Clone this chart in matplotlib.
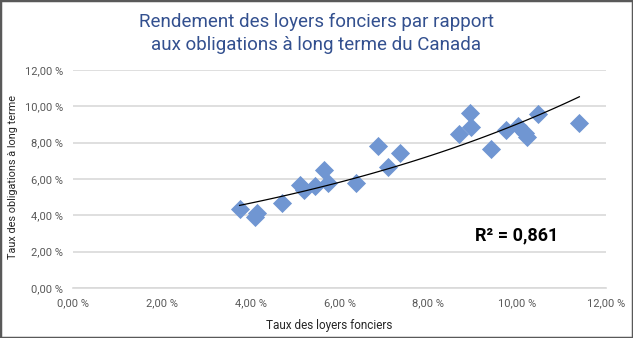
import numpy as np
import matplotlib
matplotlib.use("Agg")
import matplotlib.pyplot as plt
from matplotlib.patches import Rectangle
from matplotlib.ticker import FuncFormatter

plt.rcParams['font.family'] = ['Roboto', 'DejaVu Sans']

# rendement des loyers fonciers (x) vs obligations long terme (y), en %
loyers = [3.75, 4.10, 4.15, 4.70, 5.11, 5.19, 5.45, 5.65, 5.73, 6.37, 6.86,
          7.09, 7.36, 8.68, 8.94, 8.96, 9.41, 9.75, 10.03, 10.18, 10.22,
          10.48, 11.40]
obligations = [4.33, 3.90, 4.15, 4.70, 5.67, 5.39, 5.61, 6.49, 5.80, 5.80,
               7.81, 6.64, 7.45, 8.46, 9.65, 8.84, 7.63, 8.70, 8.92, 8.51,
               8.33, 9.58, 9.06]
ticks = [0, 2, 4, 6, 8, 10, 12]
r2_label = "R² = 0,861"

x = np.array(loyers)
y = np.array(obligations)

# tendance exponentielle y = a*exp(b*x)
b, ln_a = np.polyfit(x, np.log(y), 1)
xt = np.linspace(x.min(), x.max(), 100)
yt = np.exp(ln_a) * np.exp(b * xt)

fig = plt.figure(figsize=(6.33, 3.38), dpi=100)
ax = fig.add_axes([73/633, 50/338, 533/633, 218/338])

ax.scatter(x, y, marker='D', s=95, color='#7096d2', linewidths=0, zorder=3)
ax.plot(xt, yt, color='black', lw=0.9, zorder=4)

ax.set_xlim(0, 12)
ax.set_ylim(0, 12)
ax.set_xticks(ticks)
ax.set_yticks(ticks)
fmt = FuncFormatter(lambda v, p: ('%.2f' % v).replace('.', ',') + ' %')
ax.xaxis.set_major_formatter(fmt)
ax.yaxis.set_major_formatter(fmt)
ax.tick_params(length=0, labelsize=8, colors='#595959', pad=7)
ax.grid(axis='y', color='#d9d9d9', lw=1.2)
ax.set_axisbelow(True)
for s in ['top', 'right', 'left']:
    ax.spines[s].set_visible(False)
ax.spines['bottom'].set_color('#d9d9d9')
ax.spines['bottom'].set_linewidth(1.2)

ax.set_xlabel("Taux des loyers fonciers", fontsize=8.5, color='#262626')
ax.xaxis.set_label_coords(0.48, -0.142)
ax.set_ylabel("Taux des obligations à long terme", fontsize=7.8, color='#262626')
ax.yaxis.set_label_coords(-0.103, 0.51)

ax.text(10.0, 2.92, r2_label, fontsize=13, fontweight='bold', color='black',
        ha='center', va='center')

fig.text(0.5, 0.9, "Rendement des loyers fonciers par rapport\naux obligations à long terme du Canada",
         ha='center', va='center', fontsize=13.5, color='#33508f', linespacing=1.35)

fig.patches.append(Rectangle((0, 0), 1, 1, transform=fig.transFigure, fill=False,
                             edgecolor='#595959', lw=2.5))

fig.savefig("out.png", dpi=100)
